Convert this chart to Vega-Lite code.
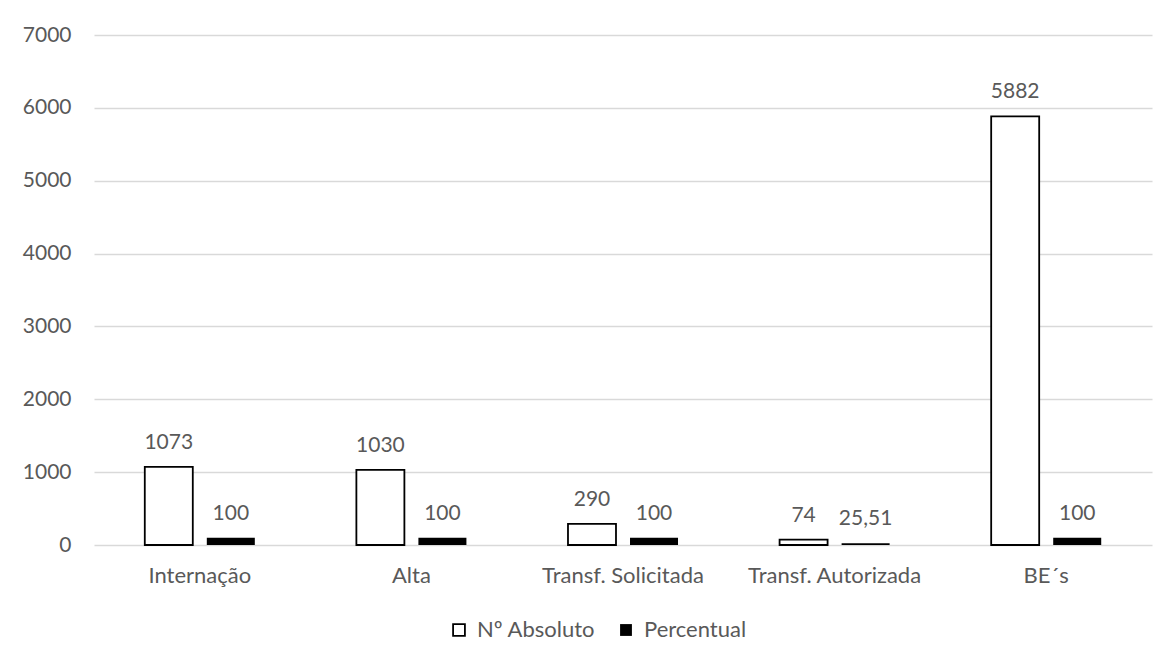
{
  "$schema": "https://vega.github.io/schema/vega-lite/v6.json",
  "autosize": {"type": "none"},
  "width": 1058,
  "height": 510,
  "padding": {"left": 94, "top": 35, "right": 24, "bottom": 119},
  "background": "white",
  "config": {
    "view": {"stroke": null},
    "font": "Lato",
    "locale": {"number": {"decimal": ",", "thousands": ".", "grouping": [3], "currency": ["R$", ""]}}
  },
  "data": {
    "values": [
      {"categoria": "Internação", "serie": "Nº Absoluto", "valor": 1073},
      {"categoria": "Internação", "serie": "Percentual", "valor": 100},
      {"categoria": "Alta", "serie": "Nº Absoluto", "valor": 1030},
      {"categoria": "Alta", "serie": "Percentual", "valor": 100},
      {"categoria": "Transf. Solicitada", "serie": "Nº Absoluto", "valor": 290},
      {"categoria": "Transf. Solicitada", "serie": "Percentual", "valor": 100},
      {"categoria": "Transf. Autorizada", "serie": "Nº Absoluto", "valor": 74},
      {"categoria": "Transf. Autorizada", "serie": "Percentual", "valor": 25.51},
      {"categoria": "BE´s", "serie": "Nº Absoluto", "valor": 5882},
      {"categoria": "BE´s", "serie": "Percentual", "valor": 100}
    ]
  },
  "encoding": {
    "x": {
      "field": "categoria", "type": "nominal", "sort": null,
      "scale": {"paddingInner": 0.48, "paddingOuter": 0.24},
      "axis": {"title": null, "labelAngle": 0, "domain": false, "ticks": false, "labelPadding": 20, "labelFontSize": 22, "labelColor": "#595959", "labelFont": "Lato"}
    },
    "xOffset": {
      "field": "serie", "type": "nominal", "sort": null,
      "scale": {"paddingInner": 0.226, "paddingOuter": 0}
    },
    "y": {
      "field": "valor", "type": "quantitative",
      "scale": {"domain": [0, 7000], "nice": false},
      "axis": {"title": null, "values": [0, 1000, 2000, 3000, 4000, 5000, 6000, 7000], "format": "d", "domain": false, "ticks": false, "labelPadding": 23, "labelFontSize": 21, "labelColor": "#595959", "labelFont": "Lato", "gridColor": "#d9d9d9", "gridWidth": 1.3}
    }
  },
  "layer": [
    {
      "mark": {"type": "bar", "strokeWidth": 1.8},
      "encoding": {
        "color": {
          "field": "serie", "type": "nominal", "sort": null,
          "scale": {"domain": ["Nº Absoluto", "Percentual"], "range": ["white", "black"]},
          "legend": {
            "title": null, "orient": "none", "direction": "horizontal",
            "legendX": 354, "legendY": 584,
            "symbolType": "square", "symbolSize": 140,
            "symbolStrokeColor": "black", "symbolStrokeWidth": 1.8,
            "labelFontSize": 22, "labelColor": "#595959", "labelFont": "Lato",
            "labelOffset": 7, "columnPadding": 19
          }
        },
        "stroke": {
          "field": "serie", "type": "nominal", "sort": null,
          "scale": {"domain": ["Nº Absoluto", "Percentual"], "range": ["black", "transparent"]},
          "legend": null
        }
      }
    },
    {
      "mark": {"type": "text", "dy": -18, "baseline": "alphabetic", "fontSize": 21, "color": "#595959", "font": "Lato"},
      "encoding": {
        "text": {"field": "valor", "type": "quantitative", "format": "~r"}
      }
    }
  ]
}
